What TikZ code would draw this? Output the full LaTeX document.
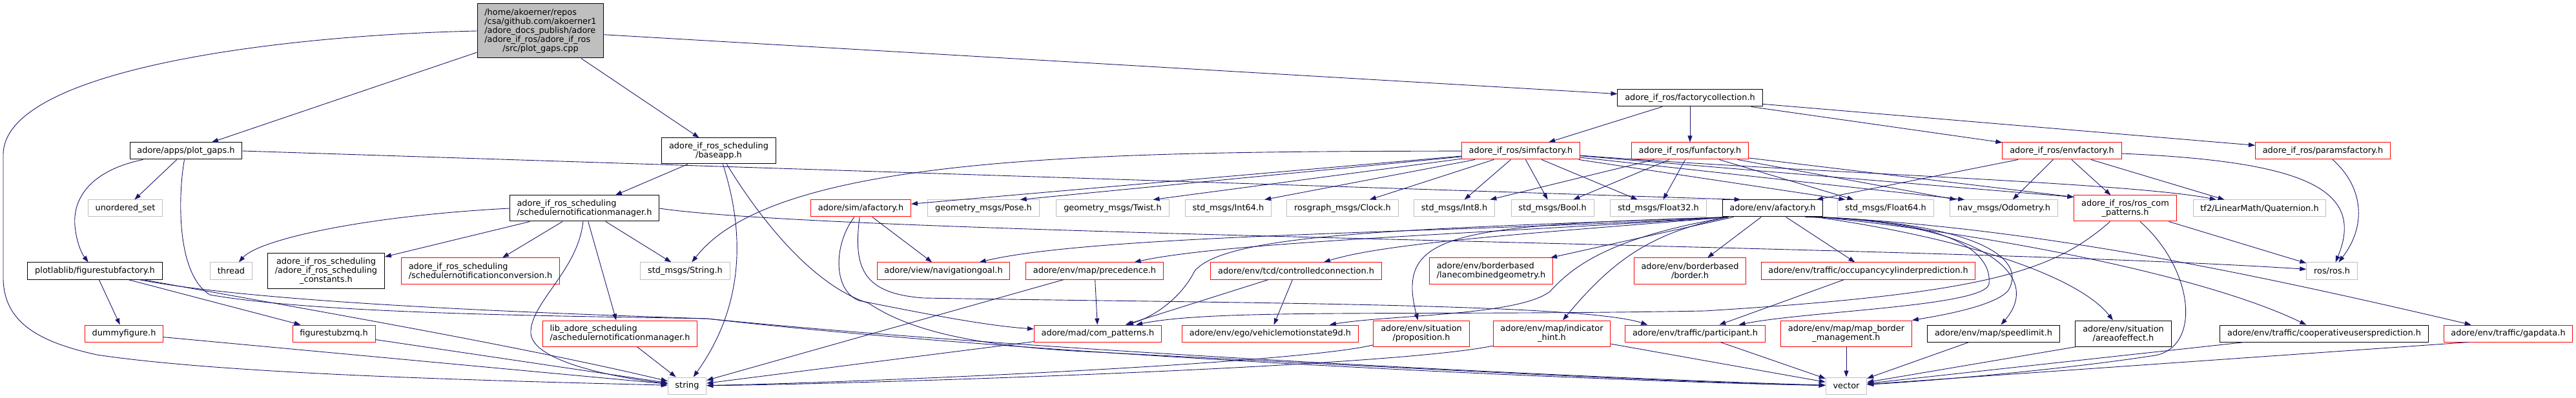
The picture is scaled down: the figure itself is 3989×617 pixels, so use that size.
\documentclass[tikz,border=0pt]{standalone}
\usepackage{fontspec}
\setmainfont{DejaVu Sans}
\usepackage{tikz}
\usetikzlibrary{arrows.meta}

\definecolor{linkblue}{HTML}{191970}
\definecolor{boxgray}{HTML}{BFBFBF}
\definecolor{boxred}{HTML}{FF0000}
\newcommand{\doxfont}{\fontsize{12.9}{14}\selectfont}

\begin{document}
\begin{tikzpicture}[
    x=1pt, y=-1pt,
    incl/.style={draw=black, fill=white, line width=1pt, font=\doxfont, inner xsep=11.3pt, inner ysep=1pt, minimum height=26pt, align=center},
    redincl/.style={incl, draw=boxred},
    sysincl/.style={incl, draw=boxgray},
    mainincl/.style={incl, fill=boxgray, minimum height=84pt, align=left},
    twoline/.style={minimum height=40pt},
    threeline/.style={minimum height=54pt},
    arrow/.style={-{Triangle[length=10pt, width=7pt]}, draw=linkblue, line width=0.9pt}
]
\fill[white] (0,0) rectangle (3989,617);
\useasboundingbox (0,0) rectangle (3989,617);

% source file and first level
\node[mainincl] (main) at (837,48) {/home/akoerner/repos\\/csa/github.com/akoerner1\\/adore\_docs\_publish/adore\\/adore\_if\_ros/adore\_if\_ros\\\hspace*{28pt}/src/plot\_gaps.cpp};
\node[incl] (factcoll) at (2617,152) {adore\_if\_ros/factorycollection.h};

\node[incl] (plotgaps) at (288,234) {adore/apps/plot\_gaps.h};
\node[incl, twoline] (baseapp) at (1113,234) {adore\_if\_ros\_scheduling\\/baseapp.h};
\node[redincl] (simfac) at (2355,234) {adore\_if\_ros/simfactory.h};
\node[redincl] (funfac) at (2617,234) {adore\_if\_ros/funfactory.h};
\node[redincl] (envfac) at (3193,234) {adore\_if\_ros/envfactory.h};
\node[redincl] (paramsfac) at (3597,234) {adore\_if\_ros/paramsfactory.h};

% third rank
\node[sysincl] (unordset) at (194,323) {unordered\_set};
\node[incl, twoline, align=left] (schedmgr) at (905,323) {adore\_if\_ros\_scheduling\\/schedulernotificationmanager.h};
\node[redincl] (simafac) at (1333,323) {adore/sim/afactory.h};
\node[sysincl] (pose) at (1523,323) {geometry\_msgs/Pose.h};
\node[sysincl] (twist) at (1723,323) {geometry\_msgs/Twist.h};
\node[sysincl] (int64) at (1902,323) {std\_msgs/Int64.h};
\node[sysincl] (clock) at (2079,323) {rosgraph\_msgs/Clock.h};
\node[sysincl] (int8) at (2252,323) {std\_msgs/Int8.h};
\node[sysincl] (bool) at (2404,323) {std\_msgs/Bool.h};
\node[sysincl] (float32) at (2568,323) {std\_msgs/Float32.h};
\node[incl] (envafac) at (2745,323) {adore/env/afactory.h};
\node[sysincl] (float64) at (2920,323) {std\_msgs/Float64.h};
\node[sysincl] (odom) at (3103,323) {nav\_msgs/Odometry.h};
\node[redincl, twoline] (roscom) at (3291,323) {adore\_if\_ros/ros\_com\\\_patterns.h};
\node[sysincl] (quat) at (3499,323) {tf2/LinearMath/Quaternion.h};

% fourth rank
\node[incl] (figstub) at (147,420) {plotlablib/figurestubfactory.h};
\node[sysincl] (thread) at (358,420) {thread};
\node[incl, threeline] (sconst) at (505,420) {adore\_if\_ros\_scheduling\\/adore\_if\_ros\_scheduling\\\_constants.h};
\node[redincl, twoline, align=left] (sconv) at (744,420) {adore\_if\_ros\_scheduling\\/schedulernotificationconversion.h};
\node[sysincl] (strmsg) at (1061,420) {std\_msgs/String.h};
\node[redincl] (navgoal) at (1461,420) {adore/view/navigationgoal.h};
\node[redincl] (preced) at (1695,420) {adore/env/map/precedence.h};
\node[redincl] (ctrlconn) at (2007,420) {adore/env/tcd/controlledconnection.h};
\node[redincl, twoline, align=left] (lanecomb) at (2309,420) {adore/env/borderbased\\/lanecombinedgeometry.h};
\node[redincl, twoline] (border) at (2617,420) {adore/env/borderbased\\/border.h};
\node[redincl] (occupancy) at (2893,420) {adore/env/traffic/occupancycylinderprediction.h};
\node[sysincl] (rosh) at (3611,420) {ros/ros.h};

% fifth rank
\node[redincl] (dummyfig) at (192,517) {dummyfigure.h};
\node[redincl] (figzmq) at (517,517) {figurestubzmq.h};
\node[redincl, twoline, align=left] (aschedmgr) at (960,517) {lib\_adore\_scheduling\\/aschedulernotificationmanager.h};
\node[redincl] (compat) at (1700,517) {adore/mad/com\_patterns.h};
\node[redincl] (vehmot) at (1967,517) {adore/env/ego/vehiclemotionstate9d.h};
\node[redincl, twoline] (propos) at (2201,517) {adore/env/situation\\/proposition.h};
\node[redincl, twoline] (indhint) at (2403,517) {adore/env/map/indicator\\\_hint.h};
\node[redincl] (partic) at (2625,517) {adore/env/traffic/participant.h};
\node[redincl, twoline] (mapborder) at (2859,517) {adore/env/map/map\_border\\\_management.h};
\node[incl] (speedlim) at (3087,517) {adore/env/map/speedlimit.h};
\node[incl, twoline] (aoe) at (3288,517) {adore/env/situation\\/areaofeffect.h};
\node[incl] (coop) at (3599,517) {adore/env/traffic/cooperativeusersprediction.h};
\node[redincl] (gapdata) at (3884,517) {adore/env/traffic/gapdata.h};

% system headers at the bottom
\node[sysincl] (string) at (1064,598) {string};
\node[sysincl] (vector) at (2859,598) {vector};

% source file
\draw[arrow] (main) -- (plotgaps);
\draw[arrow] (main) -- (baseapp);
\draw[arrow] (main) -- (factcoll);
\draw[arrow] (main.west) .. controls (420,55) and (5,110) .. (5,240) -- (5,430)
    .. controls (5,500) and (60,530) .. (150,550) .. controls (350,580) and (750,590) .. (string);

% plot_gaps.h
\draw[arrow] (plotgaps) -- (unordset);
\draw[arrow] (plotgaps) .. controls (150,262) and (112,300) .. (116,350) .. controls (119,380) and (128,395) .. (figstub);
\draw[arrow] (plotgaps.east) -- ([xshift=29pt]envafac.north west);
\draw[arrow] (plotgaps) .. controls (276,300) and (272,425) .. (325,457) .. controls (500,488) and (900,490) .. (1095,494)
    .. controls (1600,545) and (2500,588) .. (vector);

% plotlablib
\draw[arrow] (figstub) -- (dummyfig);
\draw[arrow] (figstub) -- (figzmq);
\draw[arrow] (figstub) .. controls (450,475) and (800,535) .. (string);
\draw[arrow] (figstub) .. controls (400,470) and (850,486) .. (1095,494) .. controls (1600,552) and (2500,592) .. (vector);
\draw[arrow] (dummyfig) -- (string);
\draw[arrow] (figzmq) -- (string);

% scheduling
\draw[arrow] (baseapp) -- (schedmgr);
\draw[arrow] (baseapp) .. controls (1140,320) and (1170,450) .. (string);
\draw[arrow] (baseapp) .. controls (1165,320) and (1250,440) .. (1345,470) .. controls (1405,510) and (1500,537) .. (1700,546)
    .. controls (2200,572) and (2600,593) .. (vector);
\draw[arrow] (schedmgr.west) .. controls (560,335) and (400,372) .. (thread);
\draw[arrow] (schedmgr) -- (sconst);
\draw[arrow] (schedmgr) -- (sconv);
\draw[arrow] (schedmgr) -- (strmsg);
\draw[arrow] (schedmgr) -- (aschedmgr);
\draw[arrow] (schedmgr) .. controls (895,420) and (820,470) .. (822,517) .. controls (825,560) and (950,585) .. (string);
\draw[arrow] (schedmgr.east) .. controls (1300,365) and (3000,380) .. (rosh);
\draw[arrow] (aschedmgr) -- (string);

% factories
\draw[arrow] (factcoll) -- (simfac);
\draw[arrow] (factcoll) -- (funfac);
\draw[arrow] (factcoll) -- (envfac);
\draw[arrow] (factcoll) -- (paramsfac);

\draw[arrow] (simfac) .. controls (1700,235) and (1200,240) .. (strmsg);
\draw[arrow] (simfac) -- (simafac);
\draw[arrow] (simfac) -- ([xshift=-30pt]pose.north east);
\draw[arrow] (simfac) -- ([xshift=-25pt]twist.north east);
\draw[arrow] (simfac) -- ([xshift=-11pt]int64.north east);
\draw[arrow] (simfac) -- (clock);
\draw[arrow] (simfac) -- (int8);
\draw[arrow] (simfac) -- (bool);
\draw[arrow] (simfac) -- (float32);
\draw[arrow] (simfac) -- ([xshift=12pt]float64.north west);
\draw[arrow] (simfac) -- ([xshift=23pt]odom.north west);
\draw[arrow] (simfac) -- ([yshift=-3pt]roscom.north west);
\draw[arrow] (simfac) .. controls (2800,268) and (3300,283) .. (quat);

\draw[arrow] (funfac) -- (int8);
\draw[arrow] (funfac) -- (bool);
\draw[arrow] (funfac) -- (float32);
\draw[arrow] (funfac) -- ([xshift=25pt]float64.north west);
\draw[arrow] (funfac) -- (odom);
\draw[arrow] (funfac) -- ([yshift=-3pt]roscom.north west);

\draw[arrow] (envfac) -- (envafac);
\draw[arrow] (envfac) -- (odom);
\draw[arrow] (envfac) -- (roscom);
\draw[arrow] (envfac) -- ([xshift=49pt]quat.north west);
\draw[arrow] (envfac) .. controls (3560,250) and (3665,290) .. (rosh);
\draw[arrow] (paramsfac) .. controls (3660,290) and (3665,350) .. (rosh);

\draw[arrow] (roscom) -- (rosh);
\draw[arrow] (roscom) .. controls (3180,420) and (3080,455) .. (2640,482) .. controls (2200,490) and (1880,478) .. ([xshift=-40pt]compat.north east);
\draw[arrow] (roscom) .. controls (3400,420) and (3410,545) .. (3330,552) .. controls (3200,572) and (3000,590) .. (vector);

% adore/env/afactory.h
\draw[arrow] ([xshift=10pt]envafac.south west) .. controls (2300,360) and (1700,362) .. (navgoal);
\draw[arrow] ([xshift=10pt]envafac.south west) .. controls (2300,362) and (1900,375) .. (preced);
\draw[arrow] ([xshift=10pt]envafac.south west) .. controls (2400,360) and (2150,375) .. (ctrlconn);
\draw[arrow] (envafac) -- (lanecomb);
\draw[arrow] (envafac) -- (border);
\draw[arrow] (envafac) -- (occupancy);
\draw[arrow] ([xshift=10pt]envafac.south west) .. controls (2200,355) and (1900,360) .. (1850,420) .. controls (1830,460) and (1790,490) .. (compat);
\draw[arrow] ([xshift=10pt]envafac.south west) .. controls (2480,370) and (2430,420) .. (2400,452) .. controls (2350,490) and (2150,488) .. ([xshift=-45pt]vehmot.north east);
\draw[arrow] ([xshift=10pt]envafac.south west) .. controls (2250,350) and (2160,360) .. (propos);
\draw[arrow] ([xshift=10pt]envafac.south west) .. controls (2560,360) and (2500,400) .. (indhint);
\draw[arrow] ([xshift=-28pt]envafac.south east) .. controls (3020,340) and (3085,390) .. (3080,440) .. controls (3075,475) and (2800,482) .. (partic);
\draw[arrow] ([xshift=-20pt]envafac.south east) .. controls (3060,345) and (3140,400) .. (3110,450) .. controls (3090,475) and (3000,490) .. (mapborder.north east);
\draw[arrow] ([xshift=-15pt]envafac.south east) .. controls (3050,345) and (3170,420) .. (speedlim);
\draw[arrow] ([xshift=-12pt]envafac.south east) .. controls (3050,370) and (3220,430) .. (aoe);
\draw[arrow] ([xshift=-5pt]envafac.south east) .. controls (3100,365) and (3420,430) .. (coop);
\draw[arrow] (envafac.south east) .. controls (3150,355) and (3450,415) .. (gapdata);

% adore/sim/afactory.h
\draw[arrow] (simafac) -- (navgoal);
\draw[arrow] (simafac) .. controls (1290,380) and (1290,450) .. (1330,466) .. controls (1450,490) and (1530,505) .. (compat);
\draw[arrow] (simafac) .. controls (1320,420) and (1340,455) .. (1430,462) .. controls (1900,470) and (2450,470) .. ([xshift=35pt]partic.north west);

% lower levels
\draw[arrow] (preced) -- (compat);
\draw[arrow] (preced) -- (string);
\draw[arrow] (ctrlconn) -- (compat);
\draw[arrow] (ctrlconn) -- (vehmot);
\draw[arrow] (occupancy) -- (partic);
\draw[arrow] (compat) -- (string);
\draw[arrow] (propos) .. controls (2000,565) and (1300,594) .. (string);
\draw[arrow] (indhint) .. controls (2150,570) and (1300,596) .. (string);
\draw[arrow] (indhint) -- (vector);
\draw[arrow] (partic) -- (vector);
\draw[arrow] (mapborder) -- (vector);
\draw[arrow] (speedlim) -- (vector);
\draw[arrow] ([xshift=2pt]aoe.south west) -- (vector);
\draw[arrow] (coop) -- (vector);
\draw[arrow] ([xshift=39pt]gapdata.south west) -- (vector);

\end{tikzpicture}
\end{document}
